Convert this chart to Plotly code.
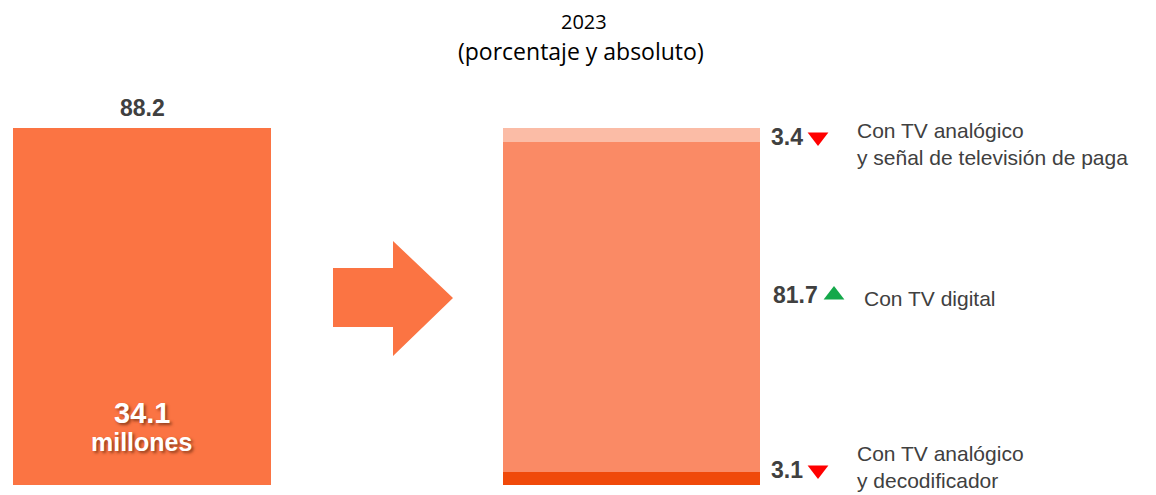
import plotly.graph_objects as go

# ---- data ----
total_label = "88.2"
total_abs = "34.1"
total_abs_unit = "millones"
total_value = 88.2
categories = ["Con TV analógico<br>y decodificador", "Con TV digital",
              "Con TV analógico<br>y señal de televisión de paga"]
values = [3.1, 81.7, 3.4]
trend = ["down", "up", "down"]
title_lines = ["2023", "(porcentaje y absoluto)"]

# ---- layout helpers (screen pixels; page body has an 8px margin) ----
OFF = 8
W, H = 1156, 495
TOP, BOTTOM = 128, 485  # plot area rows on screen
def py(p):  # screen row -> paper y
    return (BOTTOM - p) / (BOTTOM - TOP)
def dy(p):  # screen row -> data y
    return (BOTTOM - p) / (BOTTOM - TOP) * total_value

seg_colors = ["#F0490A", "#FA8A65", "#FBBCA6"]
left_color = "#FB7443"
txt_gray = "#404040"

fig = go.Figure()
fig.add_trace(go.Bar(x=[142], y=[total_value], width=[258], marker_color=left_color,
                     marker_line_width=0, hoverinfo="skip", showlegend=False))
for v, c in zip(values, seg_colors):
    fig.add_trace(go.Bar(x=[631.5], y=[v], width=[257], marker_color=c,
                         marker_line_width=0, hoverinfo="skip", showlegend=False))

ann = []
# title
ann.append(dict(x=584, y=py(22), yref="paper", yanchor="middle", xanchor="center", text=title_lines[0],
                showarrow=False, font=dict(family="Open Sans", size=20, color="#000")))
ann.append(dict(x=581, y=py(51), yref="paper", yanchor="middle", xanchor="center", text=title_lines[1],
                showarrow=False, font=dict(family="Open Sans", size=23, color="#000")))
# left bar labels
ann.append(dict(x=142, y=py(108), yref="paper", yanchor="middle", xanchor="center",
                text=f"<b>{total_label}</b>",
                showarrow=False, font=dict(family="Liberation Sans", size=23, color=txt_gray)))
shadow = "2px 2px 3px rgba(120,50,20,0.8)"
ann.append(dict(x=142, y=dy(413), yanchor="middle", text=f"<b>{total_abs}</b>", showarrow=False,
                font=dict(family="Liberation Sans", size=29, color="white", shadow=shadow)))
ann.append(dict(x=141, y=dy(442), yanchor="middle", text=f"<b>{total_abs_unit}</b>", showarrow=False,
                font=dict(family="Liberation Sans", size=25, color="white", shadow=shadow)))

# right labels
cum = 0
label_shift = [9, 12, -2]
text_shift = [12, 9, -9]
tri_x = [818, 834, 818]
tri_x_num = [769, 771, 769]
tx = [855, 862, 855]
tri_sym, tri_col = [], []
for i, (v, cat, t) in enumerate(zip(values, categories, trend)):
    mid = cum + v / 2
    cum += v
    ann.append(dict(x=tri_x_num[i], y=mid, yshift=label_shift[i], xanchor="left", yanchor="middle",
                    text=f"<b>{v}</b>", showarrow=False,
                    font=dict(family="Liberation Sans", size=23, color=txt_gray)))
    ann.append(dict(x=tx[i], y=mid, yshift=text_shift[i], xanchor="left", yanchor="middle",
                    align="left", text=cat, showarrow=False,
                    font=dict(family="Liberation Sans", size=21, color=txt_gray)))
    tri_sym.append("triangle-down" if t == "down" else "triangle-up")
    tri_col.append("#FF0000" if t == "down" else "#14A84A")

# trend triangles as markers (placed next to the value labels)
tri_pix = [470, 295, 137]
fig.add_trace(go.Scatter(x=tri_x, y=[dy(p) for p in tri_pix], mode="markers",
                         marker=dict(symbol=tri_sym, color=tri_col, size=18, line_width=0),
                         hoverinfo="skip", showlegend=False))

# arrow shape (pixel geometry converted to data coords)
ax0, ax1, ax2 = 333, 393, 453
path = (f"M {ax0},{dy(268)} L {ax1},{dy(268)} L {ax1},{dy(241)} L {ax2},{dy(298)} "
        f"L {ax1},{dy(356)} L {ax1},{dy(327)} L {ax0},{dy(327)} Z")
shapes = [dict(type="path", path=path, xref="x", yref="y", fillcolor=left_color, line_width=0)]

fig.update_layout(
    width=W - OFF, height=H - OFF,
    margin=dict(l=0, r=0, t=TOP - OFF, b=H - BOTTOM), autosize=False,
    barmode="stack", bargap=0, plot_bgcolor="white", paper_bgcolor="white",
    xaxis=dict(range=[OFF, W], visible=False, fixedrange=True),
    yaxis=dict(range=[0, total_value], visible=False, fixedrange=True),
    annotations=ann, shapes=shapes,
)
fig.write_html("out.html")
